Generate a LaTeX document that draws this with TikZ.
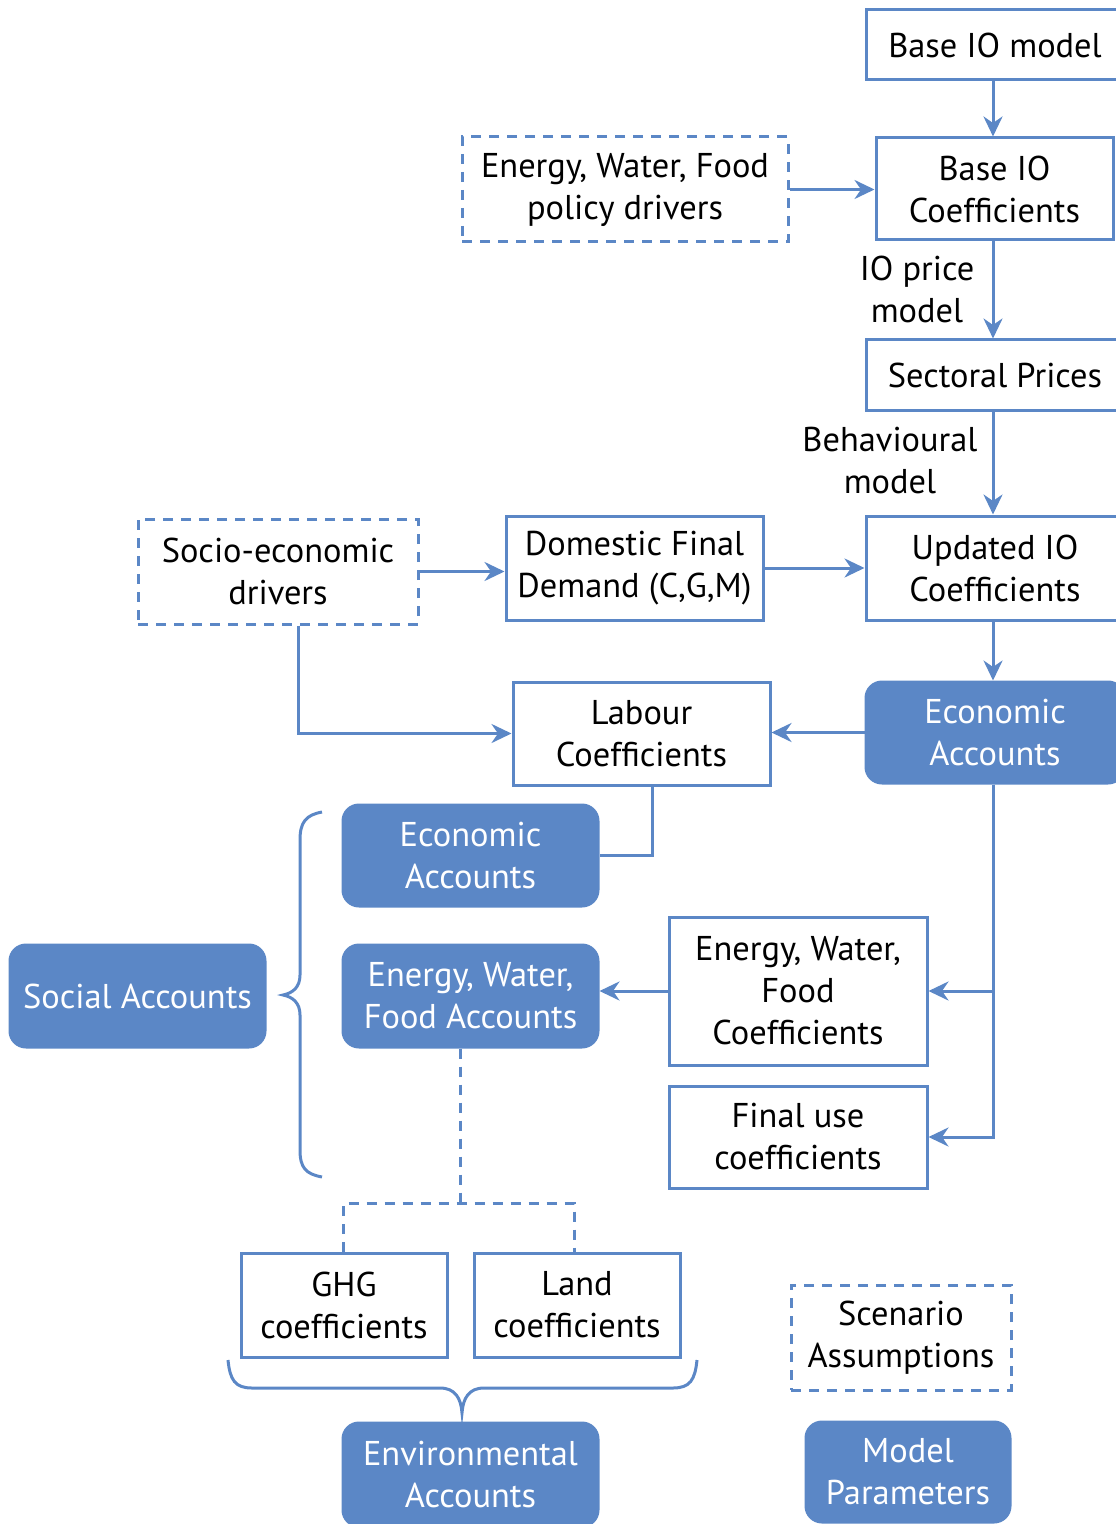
\documentclass[tikz,border=0pt]{standalone}
\usepackage{fontspec}
\setmainfont{PT Sans}
\usetikzlibrary{arrows.meta}
\definecolor{bl}{HTML}{5B87C6}
\begin{document}
\begin{tikzpicture}[x=0.5pt,y=-0.5pt,
  wbox/.style={draw=bl, line width=1.5pt, fill=white, align=center, inner sep=0pt, font=\fontsize{17.2}{21}\selectfont},
  dbox/.style={wbox, dash pattern=on 5pt off 4pt},
  abox/.style={wbox, fill=bl, text=white, rounded corners=8pt},
  lbl/.style={align=center, inner sep=0pt, font=\fontsize{17.2}{21}\selectfont},
  arr/.style={draw=bl, line width=1.5pt, -{Stealth[length=10pt,width=9.5pt]}},
  ln/.style={draw=bl, line width=1.5pt},
  dln/.style={ln, dash pattern=on 5pt off 4pt}]
\useasboundingbox (0,0) rectangle (1115,1524);
% nodes
\node[wbox, minimum width=129pt, minimum height=35pt] (bim) at (995,45) {Base IO model};
\node[dbox, minimum width=163pt, minimum height=52.5pt] (pol) at (625,189.5) {Energy, Water, Food\\policy drivers};
\node[wbox, minimum width=118.5pt, minimum height=51pt] (bic) at (994.5,189) {Base IO\\Coefficients};
\node[lbl] (iop) at (917,289) {IO price\\model};
\node[wbox, minimum width=129pt, minimum height=35pt] (sp) at (995,375) {Sectoral Prices};
\node[lbl] (beh) at (890,461) {Behavioural\\model};
\node[wbox, minimum width=129pt, minimum height=52pt] (uio) at (995,568) {Updated IO\\Coefficients};
\node[dbox, minimum width=140pt, minimum height=52.5pt] (soc) at (278,571.5) {Socio-economic\\drivers};
\node[wbox, minimum width=128.5pt, minimum height=52pt] (dfd) at (634.5,568) {Domestic Final\\Demand (C,G,M)};
\node[abox, minimum width=129pt, minimum height=50.5pt] (eaR) at (995,732.5) {Economic\\Accounts};
\node[wbox, minimum width=128.5pt, minimum height=51.5pt] (lab) at (641.5,733.5) {Labour\\Coefficients};
\node[abox, minimum width=127.5pt, minimum height=50.5pt] (eaL) at (470.5,855.5) {Economic\\Accounts};
\node[wbox, minimum width=129pt, minimum height=74pt] (ewfc) at (798,991) {Energy, Water,\\Food\\Coefficients};
\node[wbox, minimum width=129pt, minimum height=51pt] (fuc) at (798,1137) {Final use\\coefficients};
\node[abox, minimum width=127.5pt, minimum height=51pt] (ewfa) at (470.5,996) {Energy, Water,\\Food Accounts};
\node[abox, minimum width=127.5pt, minimum height=51pt] (sa) at (137.5,996) {Social Accounts};
\node[wbox, minimum width=103pt, minimum height=52pt] (ghg) at (344,1305) {GHG\\coefficients};
\node[wbox, minimum width=103pt, minimum height=52pt] (land) at (577,1305) {Land\\coefficients};
\node[abox, minimum width=127.5pt, minimum height=51.5pt] (env) at (470.5,1474.5) {Environmental\\Accounts};
\node[dbox, minimum width=110pt, minimum height=52.5pt] (scen) at (901,1337.5) {Scenario\\Assumptions};
\node[abox, minimum width=102pt, minimum height=50pt] (mp) at (908,1472) {Model\\Parameters};
% connectors
\draw[arr] (bim.south -| 993,0) -- (bic.north -| 993,0);
\draw[arr] (pol.east) -- (pol.east -| bic.west);
\draw[arr] (bic.south -| 993,0) -- (sp.north -| 993,0);
\draw[arr] (sp.south -| 993,0) -- (uio.north -| 993,0);
\draw[arr] (soc.east) -- (soc.east -| dfd.west);
\draw[arr] (dfd.east) -- (uio.west);
\draw[arr] (uio.south -| 993,0) -- (eaR.north -| 993,0);
\draw[arr] (eaR.west) -- (eaR.west -| lab.east);
\draw[arr] ([xshift=10pt]soc.south) |- (lab.west);
\draw[ln] ([xshift=5.25pt]lab.south) |- (eaL.east);
\draw[arr] (eaR.south -| 993,0) |- (ewfc.east);
\draw[arr] (eaR.south -| 993,0) |- (fuc.east);
\draw[arr] (ewfc.west) -- (ewfc.west -| ewfa.east);
\coordinate (j) at (460,1203);
\draw[dln] (ewfa.south -| j) -- (j);
\draw[dln] (ghg.north -| 343,0) |- (j) -| (land.north -| 574,0);
% braces
\draw[ln] (322,812) .. controls (306,815) and (300,822) .. (300,840) -- (300,975)
  .. controls (300,987) and (293,993) .. (283,995)
  .. controls (293,997) and (300,1003) .. (300,1015) -- (300,1150)
  .. controls (300,1168) and (306,1174) .. (322,1177);
\draw[ln] (228,1360) .. controls (230,1380) and (235,1388) .. (252,1388) -- (440,1388)
  .. controls (455,1388) and (461,1398) .. (462,1413)
  .. controls (463,1398) and (469,1388) .. (484,1388) -- (673,1388)
  .. controls (690,1388) and (695,1380) .. (697,1360);
\end{tikzpicture}
\end{document}
